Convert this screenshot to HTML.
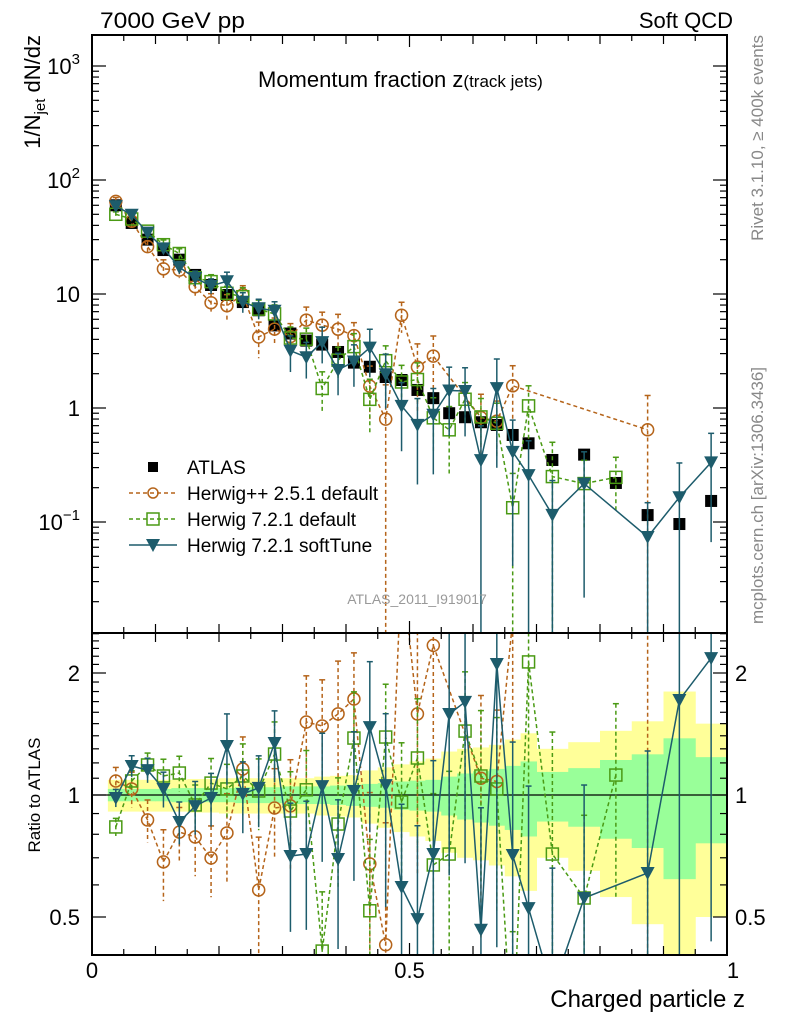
<!DOCTYPE html>
<html><head><meta charset="utf-8">
<style>
html,body{margin:0;padding:0;background:#fff;width:786px;height:1024px;overflow:hidden;}
svg{display:block;font-family:"Liberation Sans",sans-serif;}
</style></head>
<body>
<svg id="chart" width="786" height="1024" viewBox="0 0 786 1024" xmlns="http://www.w3.org/2000/svg">
<defs>
<clipPath id="cm"><rect x="92" y="35" width="635" height="598"/></clipPath>
<clipPath id="cr"><rect x="92" y="633" width="635" height="322"/></clipPath>
</defs>
<g id="bands" clip-path="url(#cr)"></g>
<g id="mainMarks" clip-path="url(#cm)"></g>
<g id="ratioMarks" clip-path="url(#cr)"></g>
<g id="axes"></g>
<text x="100" y="28" font-size="22" textLength="145" lengthAdjust="spacingAndGlyphs">7000 GeV pp</text>
<text x="733" y="28" font-size="22" text-anchor="end">Soft QCD</text>
<text x="258" y="87" font-size="22">Momentum fraction z<tspan font-size="17">(track jets)</tspan></text>
<text transform="translate(40,35) rotate(-90)" font-size="22" text-anchor="end">1/N<tspan font-size="15" dy="5">jet</tspan><tspan dy="-5"> dN/dz</tspan></text>
<text transform="translate(40,795) rotate(-90)" font-size="17" text-anchor="middle">Ratio to ATLAS</text>
<text x="745" y="1007" font-size="24" text-anchor="end">Charged particle z</text>
<text transform="translate(763,35) rotate(-90)" font-size="17" fill="#888" text-anchor="end">Rivet 3.1.10, ≥ 400k events</text>
<text transform="translate(763,624) rotate(-90)" font-size="17" fill="#888">mcplots.cern.ch [arXiv:1306.3436]</text>
<text x="417" y="604" font-size="14" fill="#999" text-anchor="middle">ATLAS_2011_I919017</text>
<g id="legend"></g>
</svg>
<script>
// ---- data ----
const binLo = [0.025,0.05,0.075,0.1,0.125,0.15,0.175,0.2,0.225,0.25,0.275,0.3,0.325,0.35,0.375,0.4,0.425,0.45,0.475,0.5,0.525,0.55,0.575,0.6,0.625,0.65,0.675,0.7,0.75,0.8,0.85,0.9,0.95];
const binHi = [0.05,0.075,0.1,0.125,0.15,0.175,0.2,0.225,0.25,0.275,0.3,0.325,0.35,0.375,0.4,0.425,0.45,0.475,0.5,0.525,0.55,0.575,0.6,0.625,0.65,0.675,0.7,0.75,0.8,0.85,0.9,0.95,1.0];
const atlasVals = [60,42,30,24.3,20,14.7,12,9.8,8.5,7.2,5.3,4.5,3.9,3.6,3.1,2.5,2.3,1.87,1.76,1.44,1.22,0.9,0.83,0.75,0.71,0.58,0.49,0.35,0.39,0.22,0.115,0.096,0.153];
const bandInner = [0.035,0.035,0.035,0.035,0.04,0.04,0.04,0.04,0.045,0.045,0.045,0.05,0.05,0.05,0.055,0.06,0.065,0.07,0.08,0.085,0.09,0.11,0.13,0.145,0.16,0.18,0.21,0.14,0.165,0.22,0.26,0.38,0.24];
const bandOuter = [0.09,0.09,0.09,0.09,0.09,0.095,0.095,0.1,0.1,0.1,0.1,0.1,0.1,0.11,0.115,0.12,0.15,0.17,0.19,0.21,0.23,0.28,0.3,0.31,0.33,0.37,0.42,0.3,0.35,0.44,0.52,0.8,0.5];
const ratioHpp = [1.083,1.035,0.868,0.684,0.81,0.788,0.699,0.806,1.159,0.583,0.929,0.94,1.514,1.48,1.585,1.725,0.676,0.427,3.7,1.585,2.34,null,null,1.10,1.08,2.7,null,null,null,null,5.6,null,null];
const ratioH7 = [0.834,1.083,1.186,1.114,1.133,0.945,1.07,1.035,1.114,1.023,1.262,0.913,1.03,0.412,0.848,1.382,0.518,1.39,0.961,1.234,0.672,0.715,1.438,1.114,1.035,0.23,2.13,0.715,0.557,1.12,null,null,null];
const ratioSoft = [0.983,1.179,1.152,1.035,0.858,0.939,0.983,1.321,1.006,1.041,1.344,0.707,0.715,1.052,0.695,1.023,1.471,1.058,0.593,0.494,0.715,1.584,1.697,0.465,2.105,0.711,0.526,0.33,0.557,null,0.642,1.716,2.177];
const errHpp = [0.08,0.1,0.12,0.2,0.15,0.2,0.2,0.25,0.2,0.35,0.25,0.3,0.3,0.3,0.35,0.3,0.5,1.0,0.3,0.6,0.5,null,null,0.6,0.5,0.5,null,null,null,null,1.0,null,null];
const errH7 = [0.05,0.06,0.07,0.1,0.1,0.12,0.15,0.15,0.2,0.2,0.2,0.25,0.25,0.4,0.3,0.3,0.5,0.35,0.4,0.4,0.5,0.6,0.4,0.45,0.5,1.0,0.5,1.0,0.6,0.5,null,null,null];
const errSoft = [0.05,0.06,0.07,0.1,0.12,0.15,0.15,0.2,0.2,0.2,0.2,0.35,0.35,0.35,0.4,0.4,0.45,0.5,0.6,0.7,0.7,0.6,0.6,1.0,0.8,0.9,1.0,1.0,0.9,null,1.0,1.0,0.8];
const yTickLabels = ["10³","10²","10","1","10⁻¹"];
const xTickLabels = ["0","0.5","1"];
const ratioTickLabels = ["0.5","1","2"];

// ---- axes functions ----
const X0=92,X1=727,MT=35,MB=633,RT=633,RB=955;
const xs = z => X0 + (X1-X0)*z;
const ym = v => 408 - 114*Math.log10(v);
const yr = r => 795 - 122*Math.log2(r);
const NS="http://www.w3.org/2000/svg";
function mk(tag, attrs, parent){const e=document.createElementNS(NS,tag);for(const k in attrs)e.setAttribute(k,attrs[k]);parent.appendChild(e);return e;}
const gB=document.getElementById('bands'), gM=document.getElementById('mainMarks'), gR=document.getElementById('ratioMarks'), gA=document.getElementById('axes'), gL=document.getElementById('legend');

for(let i=0;i<binLo.length;i++){
  const x=xs(binLo[i]), w=xs(binHi[i])-x;
  let r=mk('rect',{x:x,y:yr(1+bandOuter[i]),width:w+0.5,height:yr(Math.max(1-bandOuter[i],0.05))-yr(1+bandOuter[i]),fill:'#ffff99'},gB);
  
  
}
for(let i=0;i<binLo.length;i++){
  const x=xs(binLo[i]), w=xs(binHi[i])-x;
  let r=mk('rect',{x:x,y:yr(1+bandInner[i]),width:w+0.5,height:yr(1-bandInner[i])-yr(1+bandInner[i]),fill:'#99ff99'},gB);
  
  
}
let ref=mk('line',{x1:X0,x2:X1,y1:yr(1),y2:yr(1),stroke:'#000','stroke-width':1.3},gR);



const centers = binLo.map((l,i)=>(l+binHi[i])/2);

function marker(kind,cx,cy,color,parent){
  let m;
  if(kind==='circle') m=mk('circle',{cx:cx,cy:cy,r:6,fill:'none',stroke:color,'stroke-width':1.5},parent);
  else if(kind==='square') m=mk('rect',{x:cx-6,y:cy-6,width:12,height:12,fill:'none',stroke:color,'stroke-width':1.5},parent);
  else if(kind==='tri') m=mk('path',{d:`M${cx-7},${cy-6} L${cx+7},${cy-6} L${cx},${cy+7} Z`,fill:color},parent);
  else m=mk('rect',{x:cx-6,y:cy-6,width:12,height:12,fill:'#000'},parent);
  return m;
}

function drawSeries(ratios, errs, color, dash, kind, name){
  const ptsM=[], ptsR=[];
  for(let i=0;i<ratios.length;i++){
    if(ratios[i]===null) continue;
    const v=ratios[i]*atlasVals[i], e=errs[i]||0.3;
    const cx=xs(centers[i]);
    ptsM.push([cx,ym(v)]); ptsR.push([cx,yr(ratios[i])]);
    const lo=e>=0.99?1e-5:v*(1-e), hi=v*(1+e);
    let eb=mk('line',{x1:cx,x2:cx,y1:ym(hi),y2:ym(lo),stroke:color,'stroke-width':1.5,'stroke-dasharray':dash},gM);
    
    
    mk('line',{x1:cx-3,x2:cx+3,y1:ym(hi),y2:ym(hi),stroke:color,'stroke-width':1.5},gM);
    const rlo=e>=0.99?0.01:ratios[i]*(1-e), rhi=ratios[i]*(1+e);
    let eb2=mk('line',{x1:cx,x2:cx,y1:yr(rhi),y2:yr(rlo),stroke:color,'stroke-width':1.5,'stroke-dasharray':dash},gR);
    
    
    mk('line',{x1:cx-3,x2:cx+3,y1:yr(rhi),y2:yr(rhi),stroke:color,'stroke-width':1.5},gR);
  }
  let l1=mk('polyline',{points:ptsM.map(p=>p.join(',')).join(' '),fill:'none',stroke:color,'stroke-width':1.5,'stroke-dasharray':dash},gM);
  
  
  let l2=mk('polyline',{points:ptsR.map(p=>p.join(',')).join(' '),fill:'none',stroke:color,'stroke-width':1.5,'stroke-dasharray':dash},gR);
  
  
  ptsM.forEach(p=>{const m=marker(kind,p[0],p[1],color,gM);
    
    });
  ptsR.forEach(p=>{const m=marker(kind,p[0],p[1],color,gR);
    
    });
}

for(let i=0;i<atlasVals.length;i++){
  const m=marker('data',xs(centers[i]),ym(atlasVals[i]),'#000',gM);
  
  
}
drawSeries(ratioHpp,errHpp,'#b5641a','4,3','circle','herwigpp-251');
drawSeries(ratioH7,errH7,'#4a9a14','4,3','square','herwig-721-default');
drawSeries(ratioSoft,errSoft,'#1d5c6c','none','tri','herwig-721-softtune');

let f1=mk('rect',{x:X0,y:MT,width:X1-X0,height:MB-MT,fill:'none',stroke:'#000','stroke-width':2},gA);


let f2=mk('rect',{x:X0,y:RT,width:X1-X0,height:RB-RT,fill:'none',stroke:'#000','stroke-width':2},gA);



for(let k=0;k<=20;k++){
  const z=k*0.05, x=xs(z);
  const len = k%10===0?12:(k%2===0?9:6);
  [[MT,1],[MB,-1],[RT,1],[RB,-1]].forEach(([y,d])=>{
    if(k===0||k===20) return;
    mk('line',{x1:x,x2:x,y1:y,y2:y+d*len,stroke:'#000','stroke-width':1.2},gA);
  });
}
[0,0.5,1].forEach((z,i)=>{
  const t=mk('text',{x:xs(z)+(i===2?6:0),y:978,'font-size':22,'text-anchor':'middle'},gA);
  t.textContent=xTickLabels[i];
  
  
});

for(let d=-2;d<=3;d++){
  for(let m=1;m<10;m++){
    const v=m*Math.pow(10,d), y=ym(v);
    if(y<MT||y>MB) continue;
    const len=m===1?14:7;
    mk('line',{x1:X0,x2:X0+len,y1:y,y2:y,stroke:'#000','stroke-width':1.2},gA);
    mk('line',{x1:X1,x2:X1-len,y1:y,y2:y,stroke:'#000','stroke-width':1.2},gA);
  }
}
[3,2,1,0,-1].forEach((d,i)=>{
  const t=mk('text',{x:80,y:ym(Math.pow(10,d))+8,'font-size':22,'text-anchor':'end'},gA);
  const lab=yTickLabels[i];
  if(lab.length>2&&lab.startsWith('10')){t.textContent='10';const s=mk('tspan',{dy:-10,'font-size':15},t);s.textContent=lab.slice(2).replace('³','3').replace('²','2').replace('⁻¹','−1');}
  else t.textContent=lab;
  
  
});

for(let k=4;k<=25;k++){
  const r=k/10, y=yr(r);
  if(y<RT||y>RB) continue;
  const major=(k===5||k===10||k===20);
  const len=major?14:7;
  mk('line',{x1:X0,x2:X0+len,y1:y,y2:y,stroke:'#000','stroke-width':1.2},gA);
  mk('line',{x1:X1,x2:X1-len,y1:y,y2:y,stroke:'#000','stroke-width':1.2},gA);
}
[0.5,1,2].forEach((r,i)=>{
  [[80,'end'],[735,'start']].forEach(([x,a])=>{
    const t=mk('text',{x:x,y:yr(r)+8,'font-size':22,'text-anchor':a},gA);
    t.textContent=ratioTickLabels[i];
    
    
  });
});

const legNames=['ATLAS','Herwig++ 2.5.1 default','Herwig 7.2.1 default','Herwig 7.2.1 softTune'];
const legKinds=['data','circle','square','tri'];
const legCols=['#000','#b5641a','#4a9a14','#1d5c6c'];
const legDash=[null,'4,3','4,3','none'];
legNames.forEach((n,i)=>{
  const y=467+i*26;
  const g=mk('g',{},gL);
  
  
  if(legDash[i]) mk('line',{x1:129,x2:177,y1:y,y2:y,stroke:legCols[i],'stroke-width':1.5,'stroke-dasharray':legDash[i]},g);
  if(i===0) mk('rect',{x:148,y:y-5,width:10,height:10,fill:'#000'},g);
  else { const m=marker(legKinds[i],153,y,legCols[i],g); if(i===1){m.setAttribute('r',5);} }
  const t=mk('text',{x:187,y:y+7,'font-size':19},g);
  t.textContent=n;
});
</script>
</body></html>
